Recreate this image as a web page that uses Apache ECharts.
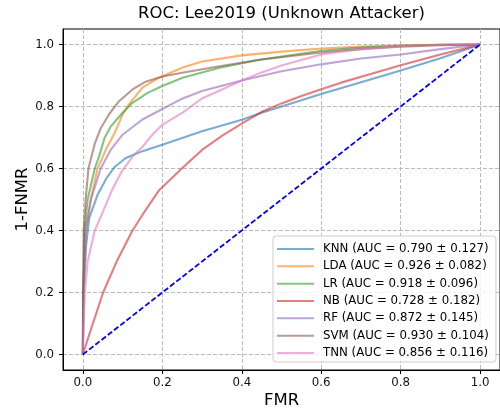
<!DOCTYPE html>
<html>
<head>
<meta charset="utf-8">
<script src="https://cdn.jsdelivr.net/npm/echarts@6/dist/echarts.min.js"></script>
<style>html,body{margin:0;padding:0;background:#fff}#c{width:500px;height:410px}</style>
</head>
<body>
<div id="c"></div>
<script>
const titleText = 'ROC: Lee2019 (Unknown Attacker)';
const xName = 'FMR';
const yName = '1-FNMR';
const tickValues = [0, 0.2, 0.4, 0.6, 0.8, 1.0];
const models = ['KNN', 'LDA', 'LR', 'NB', 'RF', 'SVM', 'TNN'];
const aucMean = ['0.790', '0.926', '0.918', '0.728', '0.872', '0.930', '0.856'];
const aucStd = ['0.127', '0.082', '0.096', '0.182', '0.145', '0.104', '0.116'];
const colors = ['#1f77b4', '#ff7f0e', '#2ca02c', '#d62728', '#9467bd', '#8c564b', '#e377c2'];

// [FMR, 1-FNMR] pairs
const knn = [[0,0],[0.002,0.2],[0.008,0.35],[0.016,0.44],[0.037,0.515],[0.06,0.57],[0.08,0.605],[0.108,0.634],[0.15,0.656],[0.2,0.677],[0.3,0.72],[0.4,0.757],[0.45,0.78],[0.5,0.8],[0.6,0.84],[0.7,0.878],[0.8,0.916],[0.9,0.956],[1,1]];
const lda = [[0,0],[0.001,0.2],[0.006,0.4],[0.02,0.5],[0.037,0.6],[0.058,0.661],[0.079,0.712],[0.1,0.774],[0.116,0.807],[0.15,0.861],[0.192,0.893],[0.251,0.926],[0.3,0.945],[0.4,0.965],[0.5,0.977],[0.6,0.987],[0.7,0.993],[0.8,0.997],[0.9,0.999],[1,1]];
const lr = [[0,0],[0.001,0.2],[0.004,0.4],[0.012,0.5],[0.03,0.6],[0.041,0.64],[0.055,0.7],[0.07,0.735],[0.1,0.78],[0.125,0.812],[0.163,0.844],[0.2,0.866],[0.251,0.893],[0.344,0.925],[0.445,0.951],[0.6,0.98],[0.7,0.99],[0.8,0.996],[0.9,0.999],[1,1]];
const nb = [[0,0],[0.02,0.08],[0.051,0.2],[0.087,0.305],[0.125,0.4],[0.16,0.47],[0.192,0.53],[0.249,0.6],[0.3,0.66],[0.35,0.705],[0.4,0.745],[0.449,0.782],[0.5,0.81],[0.55,0.834],[0.6,0.856],[0.65,0.877],[0.72,0.903],[0.8,0.933],[0.9,0.968],[1,1]];
const rf = [[0,0],[0.001,0.2],[0.008,0.4],[0.02,0.5],[0.045,0.6],[0.07,0.66],[0.1,0.709],[0.15,0.758],[0.2,0.792],[0.251,0.826],[0.3,0.85],[0.4,0.884],[0.5,0.914],[0.6,0.936],[0.7,0.955],[0.8,0.968],[0.9,0.985],[1,1]];
const svm = [[0,0],[0.0005,0.2],[0.002,0.4],[0.007,0.5],[0.014,0.6],[0.03,0.68],[0.045,0.73],[0.066,0.775],[0.091,0.817],[0.125,0.855],[0.158,0.88],[0.2,0.897],[0.25,0.909],[0.344,0.93],[0.445,0.951],[0.6,0.974],[0.7,0.985],[0.8,0.993],[0.9,0.998],[1,1]];
const tnn = [[0,0],[0.002,0.1],[0.005,0.2],[0.012,0.3],[0.03,0.4],[0.042,0.435],[0.074,0.532],[0.1,0.595],[0.126,0.64],[0.15,0.67],[0.175,0.709],[0.2,0.741],[0.251,0.78],[0.3,0.826],[0.35,0.855],[0.4,0.884],[0.45,0.91],[0.5,0.932],[0.6,0.968],[0.7,0.985],[0.8,0.995],[0.9,0.999],[1,1]];
const chance = [[0,0],[1,1]];

const curves = [knn, lda, lr, nb, rf, svm, tnn];
const FONT = 'DejaVu Sans';
const labels = models.map((m, i) => m + ' (AUC = ' + aucMean[i] + ' \u00b1 ' + aucStd[i] + ')');

const series = curves.map((d, i) => ({
  name: labels[i],
  type: 'line',
  data: d,
  symbol: 'none',
  showSymbol: false,
  smooth: false,
  animation: false,
  lineStyle: { color: colors[i], width: 2.1, opacity: 0.6, join: 'round' },
  itemStyle: { color: colors[i], opacity: 0.6 },
  z: 2 + i
}));
series.push({
  name: 'chance',
  type: 'line',
  data: chance,
  symbol: 'none',
  animation: false,
  lineStyle: { color: '#0000ff', width: 1.8, type: [5.5, 2.4] },
  z: 20
});

const axisCommon = (name, gap, rot) => ({
  type: 'value',
  min: -0.05,
  max: 1.05,
  name: name,
  nameLocation: 'middle',
  nameGap: gap,
  nameRotate: rot,
  nameMoveOverlap: false,
  nameTextStyle: { fontFamily: FONT, fontSize: 16.5, color: '#000' },
  axisLine: { show: true, onZero: false, lineStyle: { color: '#000', width: 1 } },
  axisTick: { show: true, inside: false, length: 4, customValues: tickValues, lineStyle: { color: '#000', width: 1 } },
  axisLabel: { customValues: tickValues, fontFamily: FONT, fontSize: 11.8, color: '#111', formatter: v => v.toFixed(1) },
  splitLine: { show: true, lineStyle: { color: '#bbbbbb', width: 1, type: [4, 2] } }
});

const xAxis = axisCommon(xName, 22, 0);
xAxis.axisLabel.margin = 7;
const yAxis = axisCommon(yName, 32, 90);
yAxis.axisLabel.margin = 9;

const chart = echarts.init(document.getElementById('c'), null, { renderer: 'canvas' });
chart.setOption({
  animation: false,
  backgroundColor: '#fff',
  title: {
    text: titleText,
    left: 138,
    top: 5,
    padding: 0,
    textStyle: { fontFamily: FONT, fontSize: 16.5, fontWeight: 'normal', color: '#000' }
  },
  grid: { left: 63, right: 0, top: 29, bottom: 40, containLabel: false, outerBoundsMode: 'none', show: true, borderColor: '#000', borderWidth: 1, backgroundColor: 'transparent' },
  xAxis: xAxis,
  yAxis: yAxis,
  legend: {
    data: labels,
    orient: 'vertical',
    left: 273,
    top: 236,
    padding: [7, 7, 3, 3],
    itemWidth: 37,
    itemHeight: 12,
    itemGap: 5.33,
    backgroundColor: 'rgba(255,255,255,0.8)',
    borderColor: '#cccccc',
    borderWidth: 1,
    borderRadius: 3,
    itemStyle: { opacity: 0, borderWidth: 0 },
    textStyle: { fontFamily: FONT, fontSize: 11.8, color: '#000', padding: [0, 0, 0, 4] }
  },
  series: series
});
</script>
</body>
</html>
